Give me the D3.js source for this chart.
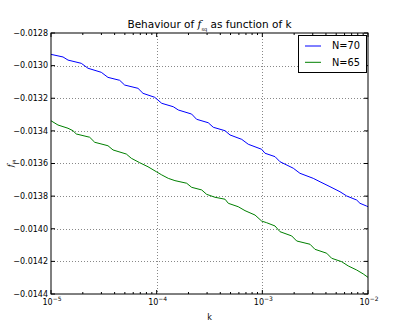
<!DOCTYPE html>
<html><head><meta charset="utf-8">
<script src="https://cdn.jsdelivr.net/npm/d3@7"></script>
<style>body{margin:0;background:#fff}svg{display:block}text{font-family:"DejaVu Sans",sans-serif}</style>
</head><body>
<svg id="c" width="409" height="327"></svg>
<script>
// log10(k) exponents and f_sq values
const blueLogK = [-5.0,-4.886,-4.839,-4.713,-4.650,-4.524,-4.461,-4.350,-4.303,-4.177,-4.129,-4.019,-3.952,-3.843,-3.795,-3.669,-3.622,-3.512,-3.464,-3.353,-3.306,-3.195,-3.133,-3.006,-2.975,-2.880,-2.833,-2.707,-2.644,-2.518,-2.454,-2.360,-2.265,-2.202,-2.107,-2.076,-2.013,-2.0];
const blueVals = [-0.012931,-0.012947,-0.012966,-0.012986,-0.013016,-0.013041,-0.013072,-0.013090,-0.013119,-0.013139,-0.013170,-0.013194,-0.013231,-0.013252,-0.013272,-0.013297,-0.013329,-0.013350,-0.013378,-0.013399,-0.013425,-0.013452,-0.013482,-0.013513,-0.013537,-0.013558,-0.013589,-0.013629,-0.013660,-0.013691,-0.013712,-0.013742,-0.013773,-0.013799,-0.013824,-0.013844,-0.013861,-0.013865];
const greenLogK = [-5.0,-4.934,-4.839,-4.792,-4.761,-4.634,-4.586,-4.461,-4.413,-4.287,-4.240,-4.161,-4.082,-4.004,-3.952,-3.890,-3.827,-3.716,-3.669,-3.574,-3.527,-3.448,-3.353,-3.322,-3.228,-3.164,-3.069,-3.006,-2.959,-2.880,-2.833,-2.722,-2.675,-2.549,-2.502,-2.391,-2.344,-2.249,-2.187,-2.107,-2.045,-2.0];
const greenVals = [-0.013338,-0.013364,-0.013384,-0.013399,-0.013419,-0.013439,-0.013470,-0.013491,-0.013517,-0.013542,-0.013568,-0.013595,-0.013620,-0.013650,-0.013670,-0.013691,-0.013705,-0.013721,-0.013746,-0.013762,-0.013789,-0.013807,-0.013819,-0.013844,-0.013865,-0.013889,-0.013916,-0.013953,-0.013963,-0.013983,-0.014018,-0.014044,-0.014075,-0.014095,-0.014126,-0.014150,-0.014181,-0.014202,-0.014228,-0.014253,-0.014277,-0.014298];
const seriesNames = ["N=70","N=65"];
const seriesColors = ["#0000ff","#008000"];
const xTickExps = [-5,-4,-3,-2];
const yTicks = [-0.0128,-0.0130,-0.0132,-0.0134,-0.0136,-0.0138,-0.0140,-0.0142,-0.0144];

const L=51, R=368, T=33, B=294;
const svg = d3.select("#c");
const x = d3.scaleLog().domain([1e-5,1e-2]).range([L,R]);
const y = d3.scaleLinear().domain([-0.0144,-0.0128]).range([B,T]);

// grid
const g = svg.append("g");
xTickExps.slice(1,-1).forEach(e=>{
  g.append("line").attr("x1",Math.round(x(Math.pow(10,e)))+0.5).attr("x2",Math.round(x(Math.pow(10,e)))+0.5)
   .attr("y1",T).attr("y2",B).attr("stroke","#888").attr("stroke-dasharray","1,2").attr("stroke-width",1);
});
yTicks.slice(1,-1).forEach(v=>{
  g.append("line").attr("y1",Math.round(y(v))+0.5).attr("y2",Math.round(y(v))+0.5)
   .attr("x1",L).attr("x2",R).attr("stroke","#888").attr("stroke-dasharray","1,2").attr("stroke-width",1);
});

// lines
const line = d3.line().x(d=>x(Math.pow(10,d[0]))).y(d=>y(d[1]));
[[blueLogK,blueVals],[greenLogK,greenVals]].forEach((s,i)=>{
  svg.append("path").datum(s[0].map((k,j)=>[k,s[1][j]])).attr("d",line)
    .attr("fill","none").attr("stroke",seriesColors[i]).attr("stroke-width",1);
});

// axes with inside ticks on all sides
const fmt = v => (v<0?"\u2212":"")+Math.abs(v).toFixed(4);
const xMinor = [];
for (let e=-5;e<-2;e++) for (let m=2;m<10;m++) xMinor.push(m*Math.pow(10,e));
function ticks(sel, vals, len, isX, side){
  vals.forEach(v=>{
    if(isX){
      const px = x(v);
      const y0 = side==="bottom"?B:T, dir = side==="bottom"?-1:1;
      sel.append("line").attr("x1",px).attr("x2",px).attr("y1",y0).attr("y2",y0+dir*len).attr("stroke","#000");
    } else {
      const py = y(v);
      const x0 = side==="left"?L:R, dir = side==="left"?1:-1;
      sel.append("line").attr("y1",py).attr("y2",py).attr("x1",x0).attr("x2",x0+dir*len).attr("stroke","#000");
    }
  });
}
const ax = svg.append("g");
ticks(ax, xTickExps.map(e=>Math.pow(10,e)), 4, true, "bottom");
ticks(ax, xTickExps.map(e=>Math.pow(10,e)), 4, true, "top");
ticks(ax, xMinor, 2, true, "bottom");
ticks(ax, xMinor, 2, true, "top");
ticks(ax, yTicks, 4, false, "left");
ticks(ax, yTicks, 4, false, "right");
ax.append("rect").attr("x",L).attr("y",T).attr("width",R-L).attr("height",B-T)
  .attr("fill","none").attr("stroke","#000").attr("stroke-width",1);

// y tick labels
yTicks.forEach(v=>{
  svg.append("text").attr("x",L-3).attr("y",y(v)).attr("dy","0.35em").attr("text-anchor","end")
    .attr("font-size",8).text(fmt(v));
});
// x tick labels
xTickExps.forEach(e=>{
  const t = svg.append("text").attr("x",x(Math.pow(10,e))+1).attr("y",305).attr("text-anchor","middle").attr("font-size",8);
  t.append("tspan").text("10");
  t.append("tspan").attr("dy",-4).attr("font-size",6).text("\u2212"+(-e));
});

// axis labels
svg.append("text").attr("x",(L+R)/2).attr("y",320).attr("text-anchor","middle").attr("font-size",8).text("k");
const yl = svg.append("text").attr("transform",`translate(13,${(T+B)/2}) rotate(-90)`).attr("text-anchor","middle").attr("font-size",8);
yl.append("tspan").attr("font-style","italic").attr("font-family","DejaVu Serif").text("f");
yl.append("tspan").attr("dy",2).attr("font-size",4).text("sq");

// title
const tt = svg.append("text").attr("x",(L+R)/2).attr("y",28).attr("text-anchor","middle").attr("font-size",10.5);
tt.append("tspan").text("Behaviour of ");
tt.append("tspan").attr("font-style","italic").attr("font-family","DejaVu Serif").text("f");
tt.append("tspan").attr("dy",2.5).attr("font-size",5).text("sq");
tt.append("tspan").attr("dy",-2.5).text(" as function of k");

// legend
const lg = svg.append("g");
lg.append("rect").attr("x",298.5).attr("y",35.5).attr("width",68).attr("height",37)
  .attr("fill","#fff").attr("stroke","#000").attr("stroke-width",1);
seriesNames.forEach((n,i)=>{
  const yy = 46 + i*16.3;
  lg.append("line").attr("x1",305).attr("x2",321).attr("y1",yy).attr("y2",yy).attr("stroke",seriesColors[i]).attr("stroke-width",1);
  lg.append("text").attr("x",332).attr("y",yy).attr("dy","0.35em").attr("font-size",9.8).text(n);
});
</script>
</body></html>
